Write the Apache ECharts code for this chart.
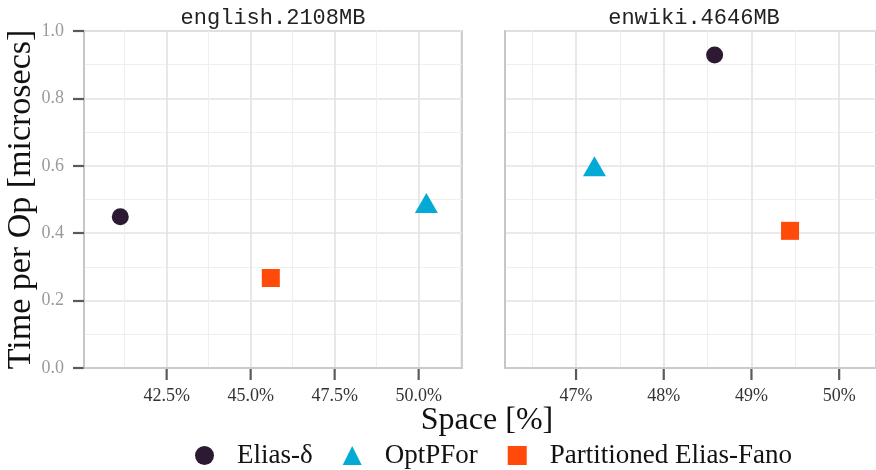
<!DOCTYPE html>
<html>
<head>
<meta charset="utf-8">
<script src="https://cdn.jsdelivr.net/npm/echarts@6/dist/echarts.min.js"></script>
<style>
  html, body { margin: 0; padding: 0; background: #ffffff; }
  #chart { width: 876px; height: 470px; }
</style>
</head>
<body>
<div id="chart"></div>
<script>
// Compression methods and the two collections
const methods = ['Elias-δ', 'OptPFor', 'Partitioned Elias-Fano'];
const panelTitles = ['english.2108MB', 'enwiki.4646MB'];

// Space [%] and time per op [microsecs], one entry per method
const englishSpace = [41.12, 50.23, 45.60];
const englishTime  = [0.449, 0.480, 0.267];
const enwikiSpace  = [48.58, 47.21, 49.44];
const enwikiTime   = [0.929, 0.589, 0.407];

// Axis ticks
const englishTicks = [42.5, 45.0, 47.5, 50.0];
const englishMinor = [41.25, 43.75, 46.25, 48.75, 51.25];
const enwikiTicks  = [47, 48, 49, 50];
const enwikiMinor  = [46.5, 47.5, 48.5, 49.5];

const colors  = ['#2c1a33', '#04aad6', '#ff4a0a'];
const symbols = ['circle', 'triangle', 'rect'];
const symbolSizes = [17, [23, 20], 18];
const symbolOffsets = [[0, 0], [0, -3.3], [0, 0]];

const SERIF = '"Liberation Serif", "DejaVu Serif", serif';
const MONO  = '"Liberation Mono", "DejaVu Sans Mono", monospace';
const BORDER = '#c4c4c4';
const TICK = '#5a5a5a';
const GRID_MAJOR = '#e3e3e3';
const GRID_MINOR = '#efefef';

const grids = [
  { left: 84, right: 414, top: 31, bottom: 102 },
  { left: 505, right: -5, top: 31, bottom: 102 }
];
const xRanges = [[40.04, 51.29], [46.19, 50.42]];
const xTicks = [englishTicks, enwikiTicks];
const xMinor = [englishMinor, enwikiMinor];
const xFormat = [v => v.toFixed(1) + '%', v => v.toFixed(0) + '%'];

function majorX(i) {
  return {
    type: 'value', gridIndex: i, position: 'bottom', min: xRanges[i][0], max: xRanges[i][1],
    axisLine: { show: true, onZero: false, lineStyle: { color: BORDER, width: 1.6 } },
    axisTick: { show: false, customValues: xTicks[i] },
    axisLabel: { show: true, customValues: xTicks[i], formatter: xFormat[i], margin: 19,
                 fontFamily: SERIF, fontSize: 18, color: '#333' },
    splitLine: { show: true, lineStyle: { color: GRID_MAJOR, width: 1.6 } },
    z: 2
  };
}
function minorX(i) {
  return {
    type: 'value', gridIndex: i, position: 'bottom', min: xRanges[i][0], max: xRanges[i][1],
    axisLine: { show: false },
    axisTick: { show: false, customValues: xMinor[i] },
    axisLabel: { show: false, customValues: xMinor[i] },
    splitLine: { show: true, lineStyle: { color: GRID_MINOR, width: 1 } },
    z: 1
  };
}
function yAxisFor(i) {
  return {
    type: 'value', gridIndex: i, min: 0, max: 1, interval: 0.2,
    name: i === 0 ? 'Time per Op [microsecs]' : '',
    nameLocation: 'middle', nameRotate: 90, nameGap: 43,
    nameTextStyle: { fontFamily: SERIF, fontSize: 34, color: '#111' },
    axisLine: { show: true, onZero: false, lineStyle: { color: BORDER, width: 1.6 } },
    axisTick: { show: i === 0, length: 11, lineStyle: { color: TICK, width: 2.2 } },
    axisLabel: { show: i === 0, margin: 20, fontFamily: SERIF, fontSize: 18, color: '#9a9a9a',
                 formatter: v => v.toFixed(1) },
    splitLine: { show: true, lineStyle: { color: GRID_MAJOR, width: 1.6 } },
    minorTick: { show: false, splitNumber: 2 },
    minorSplitLine: { show: true, lineStyle: { color: GRID_MINOR, width: 1 } }
  };
}

const panelSpace = [englishSpace, enwikiSpace];
const panelTime = [englishTime, enwikiTime];
const series = [];
for (let p = 0; p < 2; p++) {
  for (let m = 0; m < methods.length; m++) {
    series.push({
      type: 'scatter', name: methods[m], xAxisIndex: p, yAxisIndex: p,
      data: [[panelSpace[p][m], panelTime[p][m]]],
      symbol: symbols[m], symbolSize: symbolSizes[m], symbolOffset: symbolOffsets[m],
      itemStyle: { color: colors[m], opacity: 1 },
      emphasis: { disabled: true }, z: 5
    });
  }
  // outward tick marks under the x axis, placed through the axis scale
  series.push({
    type: 'custom', xAxisIndex: p, yAxisIndex: p, silent: true, clip: false, z: 3,
    data: xTicks[p].map(v => [v, 0]),
    renderItem: (params, api) => {
      const pt = api.coord([api.value(0), api.value(1)]);
      return {
        type: 'line',
        shape: { x1: pt[0], y1: pt[1] + 1, x2: pt[0], y2: pt[1] + 12 },
        style: { stroke: TICK, lineWidth: 2.2 }
      };
    }
  });
}

const option = {
  animation: false,
  backgroundColor: '#ffffff',
  title: [
    { text: panelTitles[0], left: 268, top: 2, textAlign: 'center',
      textStyle: { fontFamily: MONO, fontSize: 22, fontWeight: 'normal', color: '#222' } },
    { text: panelTitles[1], left: 689, top: 2, textAlign: 'center',
      textStyle: { fontFamily: MONO, fontSize: 22, fontWeight: 'normal', color: '#222' } },
    { text: 'Space [%]', left: 482, top: 400, textAlign: 'center',
      textStyle: { fontFamily: SERIF, fontSize: 32, fontWeight: 'normal', color: '#111' } }
  ],
  grid: grids.map(g => Object.assign({ show: true, borderColor: BORDER, borderWidth: 1.6,
                                        backgroundColor: '#ffffff' }, g)),
  xAxis: [majorX(0), majorX(1), minorX(0), minorX(1)],
  yAxis: [yAxisFor(0), yAxisFor(1)],
  legend: {
    left: 190, top: 437, orient: 'horizontal',
    itemWidth: 19, itemHeight: 19, itemGap: 30,
    selectedMode: false,
    data: methods.map((n, i) => ({ name: n, icon: symbols[i], itemStyle: { color: colors[i] } })),
    textStyle: { fontFamily: SERIF, fontSize: 27, color: '#111', padding: [0, 0, 0, 18] }
  },
  series: series
};

const chart = echarts.init(document.getElementById('chart'), null, { renderer: 'canvas' });
chart.setOption(option);
</script>
</body>
</html>
